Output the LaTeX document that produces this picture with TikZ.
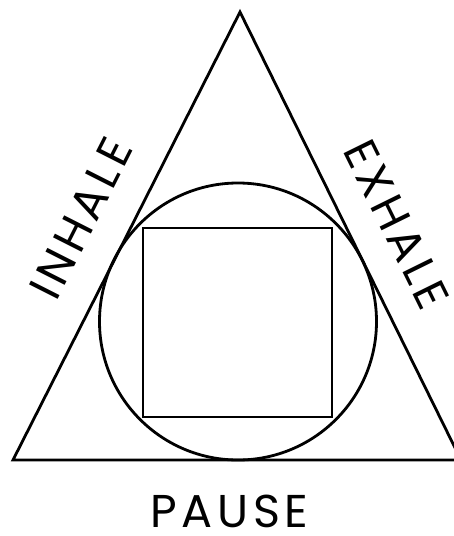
\documentclass[tikz,border=0pt]{standalone}
\usepackage{fontspec}
\setmainfont{Poppins}[LetterSpace=10]
\begin{document}
\begin{tikzpicture}[x=1pt, y=-1pt, line width=2.8pt,
    word/.style={inner sep=0pt, font=\fontsize{46}{50}\selectfont}]

    \useasboundingbox (0,0) rectangle (453,536);

    \coordinate (apex) at (240,12);
    \coordinate (lft) at (13,460);
    \coordinate (rgt) at (461,460);

    \node[circle, draw, inner sep=0pt, minimum size=277pt] (ring) at (238,321.5) {};
    \node[draw, inner sep=0pt, minimum size=189pt] (box) at (237.5,322.5) {};

    \draw (lft) -- (apex) -- (rgt) -- cycle;

    \path (lft) -- (apex) node[pos=0.49, sloped, above=31pt, word] (inhale) {INHALE};
    \path (apex) -- (rgt) node[pos=0.52, sloped, above=29pt, word] (exhale) {EXHALE};
    \node[word] (pause) at (229.5,511.5) {PAUSE};
    \end{tikzpicture}
\end{document}
